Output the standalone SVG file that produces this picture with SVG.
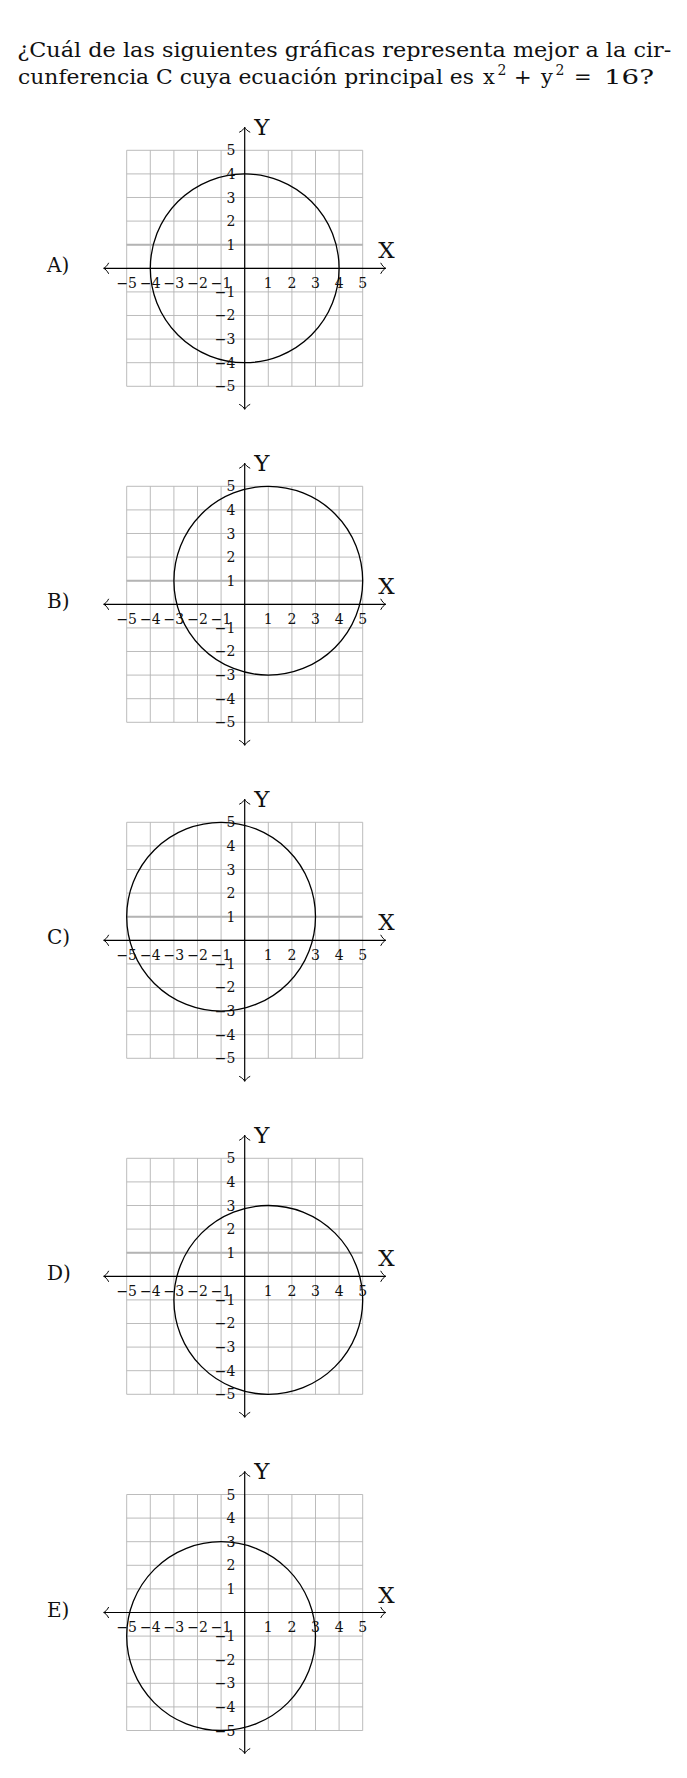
<svg xmlns="http://www.w3.org/2000/svg" xmlns:xlink="http://www.w3.org/1999/xlink" width="687" height="1778" viewBox="0 0 687 1778">
<style>
text{font-family:"DejaVu Serif","Liberation Serif",serif;fill:#111}
.title{font-size:20px}
.math{font-size:21px}
.sup{font-size:14px}
.opt{font-size:20px}
.ax{font-size:23px}
.tx{font-size:14px;text-anchor:middle}
.ty{font-size:14px;text-anchor:end}
.grid{fill:none;stroke:#b4b4b4;stroke-width:0.9}
.hl{fill:none;stroke:#b4b4b4;stroke-width:2}
.axis{fill:none;stroke:#000;stroke-width:1.2;marker-start:url(#arr);marker-end:url(#arr)}
.circ{fill:none;stroke:#000;stroke-width:1.3}
</style>
<defs>
<marker id="arr" markerUnits="userSpaceOnUse" orient="auto-start-reverse" refX="0" refY="0" markerWidth="14" markerHeight="14" overflow="visible">
<path d="M-5,-5.5 C-3.5,-2.5 -1.5,-0.7 0,0 C-1.5,0.7 -3.5,2.5 -5,5.5" fill="none" stroke="#000" stroke-width="1"/>
</marker>
<g id="frame">
<path class="grid" d="M-118,-118V118M-94.4,-118V118M-70.8,-118V118M-47.2,-118V118M-23.6,-118V118M0,-118V118M23.6,-118V118M47.2,-118V118M70.8,-118V118M94.4,-118V118M118,-118V118M-118,-118H118M-118,-94.4H118M-118,-70.8H118M-118,-47.2H118M-118,-23.6H118M-118,0H118M-118,23.6H118M-118,47.2H118M-118,70.8H118M-118,94.4H118M-118,118H118"/>
</g>
<g id="labels">
<path class="axis" d="M-141,0H141"/>
<path class="axis" d="M0,141V-141"/>
<text class="ax" x="133.5" y="-10">X</text>
<text class="ax" x="9.6" y="-133.3">Y</text>
<text class="tx" x="-118" y="19.4">−5</text>
<text class="tx" x="-94.4" y="19.4">−4</text>
<text class="tx" x="-70.8" y="19.4">−3</text>
<text class="tx" x="-47.2" y="19.4">−2</text>
<text class="tx" x="-23.6" y="19.4">−1</text>
<text class="tx" x="23.6" y="19.4">1</text>
<text class="tx" x="47.2" y="19.4">2</text>
<text class="tx" x="70.8" y="19.4">3</text>
<text class="tx" x="94.4" y="19.4">4</text>
<text class="tx" x="118" y="19.4">5</text>
<text class="ty" x="-9.2" y="-113">5</text>
<text class="ty" x="-9.2" y="-89.4">4</text>
<text class="ty" x="-9.2" y="-65.8">3</text>
<text class="ty" x="-9.2" y="-42.2">2</text>
<text class="ty" x="-9.2" y="-18.6">1</text>
<text class="ty" x="-9.2" y="28.6">−1</text>
<text class="ty" x="-9.2" y="52.2">−2</text>
<text class="ty" x="-9.2" y="75.8">−3</text>
<text class="ty" x="-9.2" y="99.4">−4</text>
<text class="ty" x="-9.2" y="123">−5</text>
</g>
</defs>
<rect width="687" height="1778" fill="#fff"/>
<g id="question">
<text class="title" x="17.3" y="56.7" textLength="654" lengthAdjust="spacingAndGlyphs">¿Cuál de las siguientes gráficas representa mejor a la cir-</text>
<text class="title" x="18" y="84" textLength="456" lengthAdjust="spacingAndGlyphs">cunferencia C cuya ecuación principal es</text>
<text class="math" x="483" y="84">x</text>
<text class="sup" x="497.5" y="75">2</text>
<text class="math" x="514" y="84">+</text>
<text class="math" x="541" y="84">y</text>
<text class="sup" x="555.5" y="75">2</text>
<text class="math" x="574" y="84">=</text>
<text class="math" x="604" y="84" textLength="50" lengthAdjust="spacingAndGlyphs">16?</text>
</g>
<g id="graph-A" transform="translate(244.7,268.3)">
<use xlink:href="#frame"/>
<path class="hl" d="M-118,-23.6H118"/>
<circle class="circ" cx="0" cy="0" r="94.4"/>
<use xlink:href="#labels"/>
<text class="opt" x="-197.7" y="4">A)</text>
</g>
<g id="graph-B" transform="translate(244.7,604.3)">
<use xlink:href="#frame"/>
<path class="hl" d="M-118,-23.6H118"/>
<circle class="circ" cx="23.6" cy="-23.6" r="94.4"/>
<use xlink:href="#labels"/>
<text class="opt" x="-197.7" y="4">B)</text>
</g>
<g id="graph-C" transform="translate(244.7,940.3)">
<use xlink:href="#frame"/>
<path class="hl" d="M-118,-23.6H118"/>
<circle class="circ" cx="-23.6" cy="-23.6" r="94.4"/>
<use xlink:href="#labels"/>
<text class="opt" x="-197.7" y="4">C)</text>
</g>
<g id="graph-D" transform="translate(244.7,1276.3)">
<use xlink:href="#frame"/>
<path class="hl" d="M-118,-23.6H118"/>
<circle class="circ" cx="23.6" cy="23.6" r="94.4"/>
<use xlink:href="#labels"/>
<text class="opt" x="-197.7" y="4">D)</text>
</g>
<g id="graph-E" transform="translate(244.7,1612.5)">
<use xlink:href="#frame"/>
<circle class="circ" cx="-23.6" cy="23.6" r="94.4"/>
<use xlink:href="#labels"/>
<text class="opt" x="-197.7" y="4">E)</text>
</g>
</svg>
